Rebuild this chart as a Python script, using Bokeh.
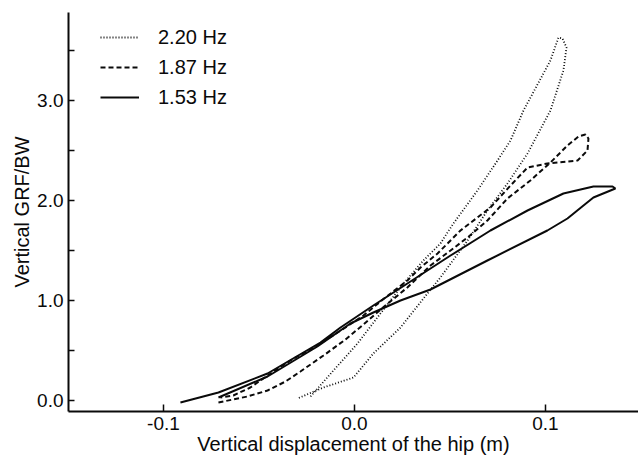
from bokeh.plotting import figure
from bokeh.models import Legend, LegendItem, FixedTicker, NumeralTickFormatter, Range1d
from bokeh.embed import file_html
from bokeh.resources import INLINE

# ---- data (vertical hip displacement [m], vertical GRF/BW) ----
labels = ["2.20 Hz", "1.87 Hz", "1.53 Hz"]

disp_220 = [-0.0230, -0.0110, 0.0016, 0.0136, 0.0257, 0.0361, 0.0450, 0.0518, 0.0644, 0.0749,
            0.0817, 0.0885, 0.1026, 0.1068, 0.1089, 0.1110, 0.1094, 0.1026, 0.0906, 0.0801,
            0.0696, 0.0592, 0.0450, 0.0382, 0.0241, 0.0099, -0.0005, -0.0162, -0.0298]
grf_220 = [0.04, 0.30, 0.57, 0.87, 1.17, 1.40, 1.57, 1.77, 2.10, 2.40,
           2.60, 2.90, 3.40, 3.63, 3.62, 3.53, 3.30, 2.90, 2.47, 2.17,
           1.90, 1.60, 1.23, 1.07, 0.73, 0.47, 0.23, 0.13, 0.02]

disp_187 = [-0.0712, -0.0560, -0.0455, -0.0361, -0.0283, -0.0162, -0.0047, 0.0047, 0.0162, 0.0277,
            0.0398, 0.0503, 0.0592, 0.0696, 0.0801, 0.0921, 0.1026, 0.1115, 0.1173, 0.1209,
            0.1225, 0.1220, 0.1168, 0.1010, 0.0906, 0.0817, 0.0712, 0.0555, 0.0435, 0.0346,
            0.0277, 0.0162, 0.0047, -0.0047, -0.0178, -0.0335, -0.0455, -0.0545, -0.0634, -0.0702]
grf_187 = [-0.02, 0.04, 0.10, 0.19, 0.29, 0.45, 0.61, 0.76, 0.95, 1.13,
           1.35, 1.50, 1.63, 1.80, 2.02, 2.20, 2.38, 2.55, 2.64, 2.66,
           2.62, 2.50, 2.40, 2.37, 2.33, 2.15, 1.93, 1.70, 1.47, 1.33,
           1.20, 1.03, 0.85, 0.73, 0.57, 0.40, 0.25, 0.13, 0.05, 0.03]

disp_153 = [-0.0712, -0.0455, -0.0194, -0.0021, 0.0099, 0.0241, 0.0398, 0.0696, 0.1010, 0.1115,
            0.1199, 0.1251, 0.1366, 0.1351, 0.1251, 0.1094, 0.0906, 0.0712, 0.0503, 0.0277,
            0.0099, -0.0073, -0.0178, -0.0455, -0.0712, -0.0911]
grf_153 = [0.03, 0.24, 0.54, 0.77, 0.88, 1.00, 1.11, 1.40, 1.70, 1.82,
           1.95, 2.03, 2.12, 2.14, 2.14, 2.07, 1.90, 1.70, 1.45, 1.17,
           0.95, 0.73, 0.58, 0.27, 0.08, -0.02]

x_ticks = [-0.1, 0.0, 0.1]
y_ticks = [0.0, 1.0, 2.0, 3.0]
y_minor = [0.5, 1.5, 2.5, 3.5]

FONT = "Liberation Sans"
INK = "#0a0a0a"

p = figure(width=638, height=459, output_backend="svg", toolbar_location=None,
           x_range=Range1d(-0.1497, 0.1487), y_range=Range1d(-0.11, 3.88),
           min_border_left=68, min_border_right=0, min_border_top=12, min_border_bottom=48)

p.background_fill_color = "white"
p.border_fill_color = "white"
p.outline_line_color = None
p.grid.visible = False

r220 = p.line(disp_220, grf_220, line_color=INK, line_width=1.8, line_dash="1 2")
r187 = p.line(disp_187, grf_187, line_color=INK, line_width=2, line_dash="5 3")
r153 = p.line(disp_153, grf_153, line_color=INK, line_width=2)

for ax in (p.xaxis[0], p.yaxis[0]):
    ax.axis_line_width = 2
    ax.axis_line_color = INK
    ax.major_tick_line_color = INK
    ax.major_tick_line_width = 1.5
    ax.minor_tick_line_color = INK
    ax.minor_tick_line_width = 1.5
    ax.major_tick_out = 0
    ax.minor_tick_out = 0
    ax.major_label_text_font = FONT
    ax.major_label_text_font_size = "19px"
    ax.major_label_text_color = INK
    ax.axis_label_text_font = FONT
    ax.axis_label_text_font_size = "20px"
    ax.axis_label_text_font_style = "normal"
    ax.axis_label_text_color = INK
    ax.formatter = NumeralTickFormatter(format="0.0")

p.xaxis.ticker = FixedTicker(ticks=x_ticks, minor_ticks=[])
p.xaxis.major_tick_in = 7
p.xaxis.minor_tick_in = 0
p.xaxis.major_label_standoff = 5
p.xaxis.axis_label_standoff = 0
p.xaxis.axis_label = "Vertical displacement of the hip (m)"

p.yaxis.ticker = FixedTicker(ticks=y_ticks, minor_ticks=y_minor)
p.yaxis.major_tick_in = 6
p.yaxis.minor_tick_in = 6
p.yaxis.major_label_standoff = 5
p.yaxis.axis_label_standoff = 1
p.yaxis.axis_label = "Vertical GRF/BW"

legend = Legend(items=[LegendItem(label=labels[0], renderers=[r220]),
                       LegendItem(label=labels[1], renderers=[r187]),
                       LegendItem(label=labels[2], renderers=[r153])],
                location=(32, 299), glyph_width=39, glyph_height=30, label_height=30,
                spacing=0, padding=5, margin=0, label_standoff=19,
                border_line_color=None, background_fill_alpha=0,
                label_text_font=FONT, label_text_font_size="20px", label_text_color=INK)
p.add_layout(legend)

open("out.html", "w").write(file_html(p, INLINE))
